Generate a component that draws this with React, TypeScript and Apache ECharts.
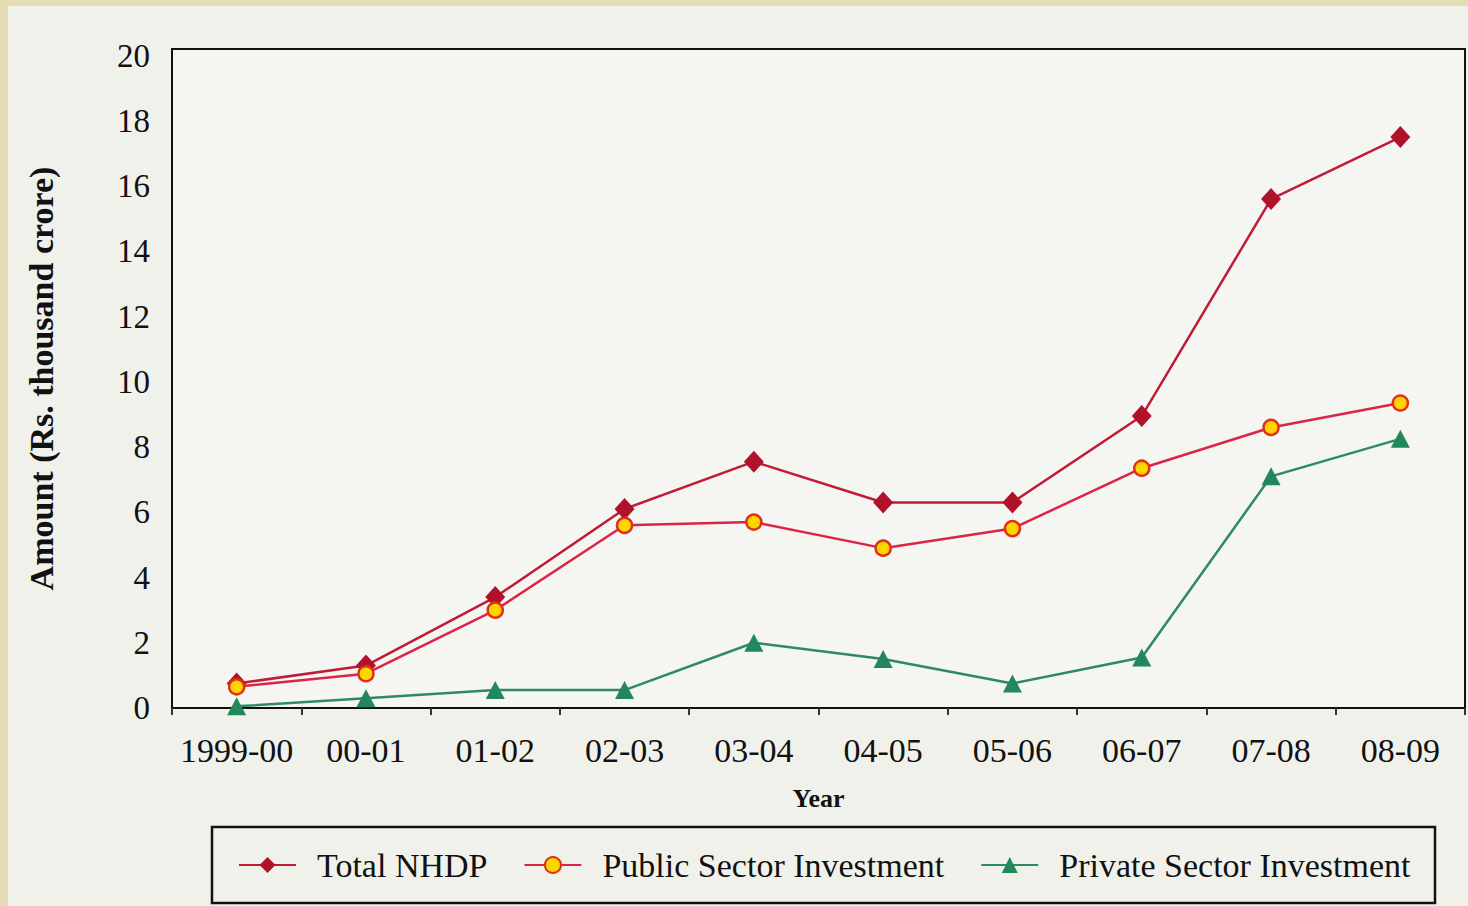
import React, { useEffect, useRef } from "react";
import * as echarts from "echarts";

const years = ["1999-00", "00-01", "01-02", "02-03", "03-04", "04-05", "05-06", "06-07", "07-08", "08-09"];
const totalNHDP = [0.75, 1.3, 3.4, 6.1, 7.55, 6.3, 6.3, 8.95, 15.6, 17.5];
const publicSector = [0.65, 1.05, 3.0, 5.6, 5.7, 4.9, 5.5, 7.35, 8.6, 9.35];
const privateSector = [0.05, 0.3, 0.55, 0.55, 2.0, 1.5, 0.75, 1.55, 7.1, 8.25];
const yTicks = { min: 0, max: 20.2, interval: 2 };

const SERIF = "'Liberation Serif', 'DejaVu Serif', serif";

export default function App() {
  const ref = useRef<HTMLDivElement>(null);
  useEffect(() => {
    if (!ref.current) return;
    const chart = echarts.init(ref.current, undefined, { renderer: "svg" });
    chart.setOption({
      animation: false,
      backgroundColor: "transparent",
      grid: {
        left: 172,
        top: 49,
        right: 3,
        bottom: 198,
        show: true,
        backgroundColor: "#f5f5f2",
        borderColor: "#111",
        borderWidth: 2,
      },
      legend: {
        left: 238,
        top: 848,
        itemWidth: 57,
        itemHeight: 20,
        itemGap: 36,
        padding: 0,
        textStyle: {
          fontFamily: SERIF,
          fontSize: 34,
          color: "#111",
          padding: [0, 0, 0, 16],
        },
        data: ["Total NHDP", "Public Sector Investment", "Private Sector Investment"],
      },
      graphic: [
        {
          type: "rect",
          shape: { x: 212, y: 827, width: 1223, height: 76 },
          style: { fill: "none", stroke: "#111", lineWidth: 2.5 },
          silent: true,
        },
      ],
      xAxis: {
        type: "category",
        data: years,
        boundaryGap: true,
        name: "Year",
        nameLocation: "middle",
        nameGap: 77,
        nameTextStyle: { fontFamily: SERIF, fontSize: 26, fontWeight: "bold", color: "#111" },
        axisLine: { show: true, lineStyle: { color: "#111", width: 2 } },
        axisTick: { show: true, inside: false, length: 7, lineStyle: { color: "#333", width: 2 } },
        axisLabel: { fontFamily: SERIF, fontSize: 34, color: "#111", margin: 25, interval: 0 },
        splitLine: { show: false },
      },
      yAxis: {
        type: "value",
        min: yTicks.min,
        max: yTicks.max,
        interval: yTicks.interval,
        name: "Amount (Rs. thousand crore)",
        nameLocation: "middle",
        nameGap: 114,
        nameTextStyle: { fontFamily: SERIF, fontSize: 34, fontWeight: "bold", color: "#111" },
        axisLine: { show: true, lineStyle: { color: "#111", width: 2 } },
        axisTick: { show: false },
        axisLabel: { fontFamily: SERIF, fontSize: 33, color: "#111", margin: 22, showMaxLabel: false },
        splitLine: { show: false },
      },
      series: [
        {
          name: "Total NHDP",
          type: "line",
          data: totalNHDP,
          symbol: "diamond",
          symbolSize: [20, 22],
          lineStyle: { color: "#c01c38", width: 2.5 },
          itemStyle: { color: "#b0122a", borderWidth: 0 },
          z: 3,
        },
        {
          name: "Public Sector Investment",
          type: "line",
          data: publicSector,
          symbol: "circle",
          symbolSize: 15,
          lineStyle: { color: "#dc2447", width: 2.5 },
          itemStyle: { color: "#ffd500", borderColor: "#e0301a", borderWidth: 2.5 },
          z: 4,
        },
        {
          name: "Private Sector Investment",
          type: "line",
          data: privateSector,
          symbol: "triangle",
          symbolSize: [19, 18],
          lineStyle: { color: "#2d8a62", width: 2.5 },
          itemStyle: { color: "#22875a", borderWidth: 0 },
          z: 2,
        },
      ],
    });
    return () => chart.dispose();
  }, []);

  return (
    <div style={{ position: "fixed", left: 0, top: 0, width: 1468, height: 906, background: "#e6dcb4" }}>
      <div style={{ position: "absolute", left: 8, top: 6, right: 0, bottom: 0, background: "#f1f1ec" }} />
      <div ref={ref} style={{ position: "absolute", left: 0, top: 0, width: 1468, height: 906 }} />
    </div>
  );
}
